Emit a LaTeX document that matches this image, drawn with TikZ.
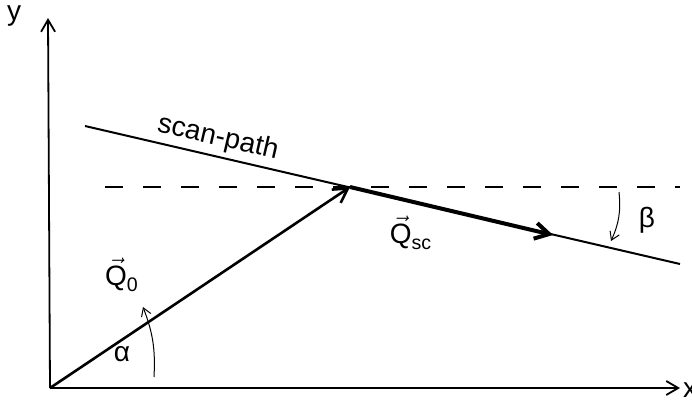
\documentclass[tikz,border=0pt]{standalone}
\usepackage{amsmath}
\usepackage{fontspec}
\setmainfont{Liberation Sans}
\usetikzlibrary{arrows.meta}

\begin{document}
\begin{tikzpicture}[x=0.5pt, y=0.5pt, font=\fontsize{14}{16}\selectfont,
    vecarrow/.style={-{Straight Barb[length=7pt, width=8pt]}},
    anglearrow/.style={-{Straight Barb[length=4pt, width=5pt]}, line width=0.5pt}]
  \useasboundingbox (0,0) rectangle (692,404);
  \coordinate (O) at (50,16);
  \coordinate (X) at (680,16);
  \coordinate (Y) at (48,386);
  \coordinate (P) at (350,217);
  \coordinate (S) at (85,278);
  \coordinate (E) at (680,140);
  \coordinate (T) at (553,169);
  \coordinate (D1) at (105,217);
  \coordinate (D2) at (680,217);

  \draw[line width=0.9pt, -{Straight Barb[length=6pt, width=7pt]}] (O) -- (X);
  \draw[line width=0.9pt, -{Straight Barb[length=6pt, width=7pt]}] (O) -- (Y);
  \node (xlabel) at (690,14) {x};
  \node (ylabel) at (14,388) {y};

  \draw[dash pattern=on 9pt off 10pt, line width=0.8pt] (D1) -- (D2);
  \draw[line width=1pt] (S) -- (E);
  \node[rotate=-13] (scan) at (218,266) {scan-path};

  \draw[vecarrow, line width=1.3pt] (O) -- (P);
  \draw[vecarrow, line width=2pt] (P) -- (T);
  \node (Q0) at (122,129) {$\vec{\text{Q}}_{\text{0}}$};
  \node (Qsc) at (411,171) {$\vec{\text{Q}}_{\text{sc}}$};

  \coordinate (a1) at (154,27);
  \coordinate (a2) at (143,97);
  \draw[anglearrow] (a1) to[bend right=12] (a2);
  \node (alpha) at (122,50) {α};

  \coordinate (b1) at (619,212);
  \coordinate (b2) at (611,163);
  \draw[anglearrow] (b1) to[bend left=15] (b2);
  \node (beta) at (647,184) {β};
\end{tikzpicture}
\end{document}
